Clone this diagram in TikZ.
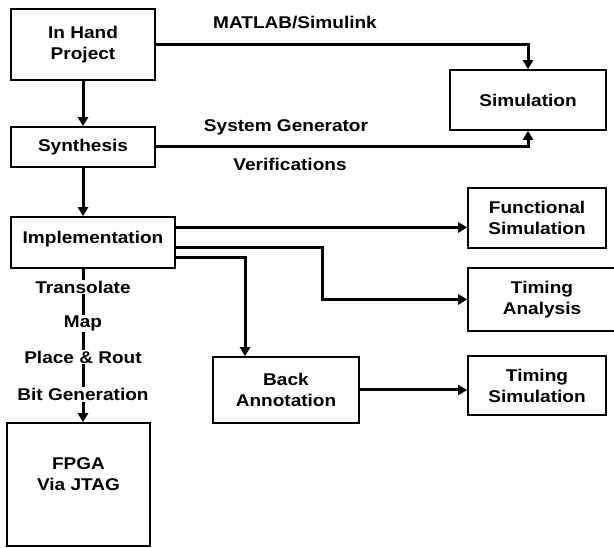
\documentclass[tikz,border=0pt]{standalone}
\usepackage{fontspec}
\newfontfamily\diafont{Liberation Sans}[FakeStretch=1.12]
\usetikzlibrary{arrows.meta, positioning}

\begin{document}
\begin{tikzpicture}[x=1pt, y=-1pt,
        every node/.style={font=\diafont\bfseries\fontsize{17}{21}\selectfont},
        box/.style={draw, line width=1.6pt, align=center, inner sep=2pt},
        tag/.style={fill=white, inner sep=1pt},
        flow/.style={line width=3pt, -{Triangle[length=9pt, width=10pt]}}
      ]
        \useasboundingbox (0,0) rectangle (614,548);
        \node[box, minimum width=144pt, minimum height=71pt] (project) at (83,44.5) {In Hand\\Project};
        \node[box, minimum width=156pt, minimum height=60pt] (sim) at (528,100) {Simulation};
        \node[box, minimum width=144pt, minimum height=40pt] (synth) at (83,147) {Synthesis};
        \node[box, minimum width=164pt, minimum height=51pt, text depth=10pt] (impl) at (93,242.5) {Implementation};
        \node[box, minimum width=138pt, minimum height=60pt] (func) at (537,218) {Functional\\Simulation};
        \node[box, minimum width=148pt, minimum height=63pt] (tana) at (542,299.5) {Timing\\Analysis};
        \node[box, minimum width=146pt, minimum height=66pt] (back) at (286,390) {Back\\Annotation};
        \node[box, minimum width=138pt, minimum height=59pt] (tsim) at (537,385.5) {Timing\\Simulation};
        \node[box, minimum width=143pt, minimum height=123pt, text depth=20pt] (fpga) at (78.5,484.5) {FPGA\\Via JTAG};
        % simulation paths
        \draw[flow] (project.east) -| (sim.north);
        \draw[flow] (synth.east) -| (sim.south);
        \node (matlab) at (295,23) {MATLAB/Simulink};
        \node (sysgen) at (286,127) {System Generator};
        \node (verif) at (290,164) {Verifications};
        % design flow
        \draw[flow] (project) -- (synth);
        \draw[flow] (synth.south) -- (synth.south |- impl.north);
        \draw[flow] ([yshift=15pt]impl.east) -- ([yshift=15pt]impl.east -| func.west);
        \draw[flow] ([yshift=-5pt]impl.east) -- ++(147,0) |- (tana.west);
        \draw[flow] ([yshift=-15pt]impl.east) -| ([xshift=-41pt]back.north);
        \draw[flow] (back.east) -- (back.east -| tsim.west);
        \draw[flow] (synth.south |- impl.south) -- (synth.south |- fpga.north)
          node[tag, pos=0.12] {Transolate}
          node[tag, pos=0.355] {Map}
          node[tag, pos=0.575] {Place \& Rout}
          node[tag, pos=0.82] {Bit Generation};
      \end{tikzpicture}
\end{document}
